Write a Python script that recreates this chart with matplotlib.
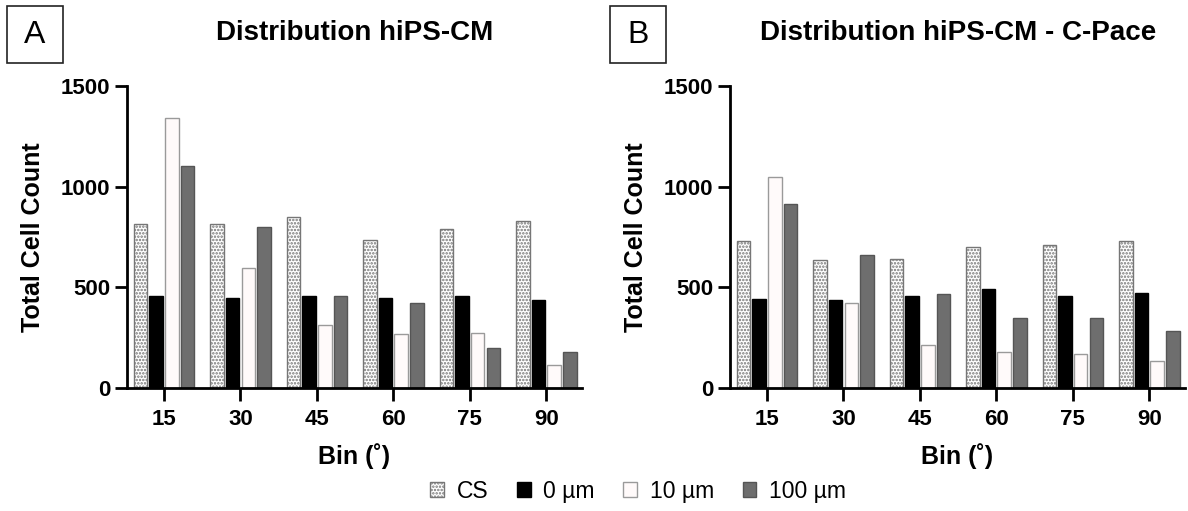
import matplotlib
matplotlib.use("Agg")
import matplotlib.pyplot as plt
import numpy as np
from matplotlib.patches import Patch, Rectangle

plt.rcParams['font.family'] = ['Liberation Sans', 'DejaVu Sans']
plt.rcParams['hatch.linewidth'] = 1.2

# 数据
bins = [15, 30, 45, 60, 75, 90]
series_names = ["CS", "0 µm", "10 µm", "100 µm"]

a_cs = [814, 814, 847, 737, 788, 829]
a_0um = [456, 446, 456, 446, 456, 438]
a_10um = [1343, 595, 314, 269, 273, 116]
a_100um = [1104, 798, 456, 424, 198, 178]

b_cs = [729, 638, 641, 702, 712, 732]
b_0um = [443, 439, 456, 492, 456, 472]
b_10um = [1046, 421, 216, 178, 170, 132]
b_100um = [914, 661, 466, 347, 350, 281]

titles = ["Distribution hiPS-CM", "Distribution hiPS-CM - C-Pace"]
panel_letters = ["A", "B"]

# 样式
styles = [
    dict(facecolor="white", edgecolor="#767676", hatch="....."),
    dict(facecolor="black", edgecolor="black", hatch=None),
    dict(facecolor="#fffafa", edgecolor="#9a9a9a", hatch=None),
    dict(facecolor="#6e6e6e", edgecolor="#555555", hatch=None),
]

W, H = 1188, 511
fig = plt.figure(figsize=(W / 100, H / 100), dpi=100)
ax_a = fig.add_axes([127 / W, 1 - 388 / H, 455 / W, 302 / H])
ax_b = fig.add_axes([730 / W, 1 - 388 / H, 455 / W, 302 / H])

step = 3.08
width = 2.65
offsets = [-1.5 * step, -0.5 * step, 0.5 * step, 1.5 * step]


def draw_panel(ax, data):
    x = np.array(bins, dtype=float)
    for vals, off, st in zip(data, offsets, styles):
        ax.bar(x + off, vals, width=width, linewidth=1.0, **st)
    ax.set_xlim(7.75, 97.0)
    ax.set_ylim(0, 1500)
    ax.set_xticks(bins)
    ax.set_yticks([0, 500, 1000, 1500])
    for s in ["top", "right"]:
        ax.spines[s].set_visible(False)
    for s in ["left", "bottom"]:
        ax.spines[s].set_linewidth(2.0)
        ax.spines[s].set_capstyle("projecting")
    ax.tick_params(axis="both", width=2.0, length=9, labelsize=16, pad=3)
    ax.tick_params(axis="x", pad=6)
    for lab in ax.get_xticklabels() + ax.get_yticklabels():
        lab.set_fontweight("bold")
    ax.set_xlabel("Bin (˚)", fontsize=18, fontweight="bold", va="center")
    ax.xaxis.set_label_coords(0.5, -0.225)
    ax.set_ylabel("Total Cell Count", fontsize=18, fontweight="bold", va="center")
    ax.yaxis.set_label_coords(-0.207, 0.5)


draw_panel(ax_a, [a_cs, a_0um, a_10um, a_100um])
draw_panel(ax_b, [b_cs, b_0um, b_10um, b_100um])

# 标题
fig.text(355 / W, 1 - 33 / H, titles[0], fontsize=20, fontweight="bold", ha="center", va="center")
fig.text(958 / W, 1 - 33 / H, titles[1], fontsize=20, fontweight="bold", ha="center", va="center")

# 面板字母和方框
for x0, letter in zip([7, 610], panel_letters):
    fig.patches.append(Rectangle((x0 / W, 1 - 63 / H), 56 / W, 57 / H,
                                 transform=fig.transFigure, facecolor="white",
                                 edgecolor="#222222", linewidth=1.2))
    fig.text((x0 + 28) / W, 1 - 35 / H, letter, fontsize=23, ha="center", va="center")

handles = [Patch(label=n, **st) for n, st in zip(series_names, styles)]
fig.legend(handles=handles, loc="center", bbox_to_anchor=(638 / W, 1 - 491 / H),
           ncol=4, frameon=False, fontsize=16.5, handlelength=0.6,
           handleheight=0.6, handletextpad=0.55, columnspacing=1.25,
           borderpad=0.0)

fig.savefig("out.png", dpi=100)
